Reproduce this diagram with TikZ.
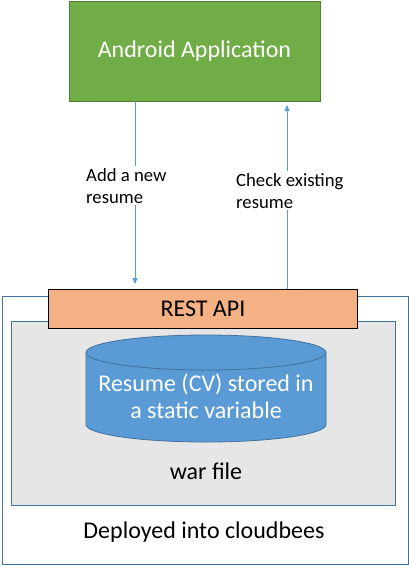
\documentclass[tikz,border=0pt]{standalone}
\usepackage{fontspec}
\setmainfont{Carlito}
\usetikzlibrary{arrows.meta}
\definecolor{appgreen}{HTML}{70AD47}
\definecolor{appgreenb}{HTML}{507E32}
\definecolor{restor}{HTML}{F4B183}
\definecolor{dbblue}{HTML}{5B9BD5}
\definecolor{edgeblue}{HTML}{41719C}
\definecolor{warg}{HTML}{E7E6E6}
\tikzset{
  box/.style={draw, rectangle, inner sep=0pt},
  conn/.style={draw=dbblue, line width=0.8pt, -{Triangle[length=6pt,width=5pt]}},
  lbl/.style={fill=white, align=left, font=\fontsize{18.7}{22}\selectfont, inner sep=2pt, anchor=north west},
  big/.style={font=\fontsize{24}{28}\selectfont}
}
\begin{document}
\begin{tikzpicture}[x=1pt,y=-1pt]
\useasboundingbox (0,0) rectangle (409,566);
% outer deployment box
\node[box, draw=edgeblue, line width=0.9pt, minimum width=406pt, minimum height=268pt, anchor=north west] (cloud) at (1.5,296) {};
% war file box
\node[box, draw=edgeblue, fill=warg, line width=0.9pt, minimum width=384pt, minimum height=184pt, anchor=north west] (war) at (11,320.5) {};
% REST API
\node[box, big, draw=black, fill=restor, line width=0.9pt, minimum width=309pt, minimum height=39pt, anchor=north west] (rest) at (48,289) {REST API};
% Android app
\node[box, big, draw=appgreenb, fill=appgreen, line width=0.9pt, minimum width=251pt, minimum height=100pt, anchor=north west, text=white] (app) at (68.5,0.5) {Android Application};
% cylinder
\draw[draw=edgeblue, fill=dbblue, line width=0.8pt] (86,352.5) -- (86,424.5) arc[start angle=180, end angle=0, x radius=120, y radius=17.5] -- (326,352.5);
\draw[draw=edgeblue, fill=dbblue, line width=0.8pt] (206,352.5) ellipse[x radius=120, y radius=17.5];
\node[big, text=white, align=center, font=\fontsize{24}{27}\selectfont] (db) at (206,396) {Resume (CV) stored in\\a static variable};
\node[big] (warlbl) at (206,471) {war file};
\node[big] (cloudlbl) at (204,532) {Deployed into cloudbees};
% connectors
\coordinate (l1) at (135,100.5);
\coordinate (l2) at (135,284);
\coordinate (r1) at (287,289);
\coordinate (r2) at (287,105);
\draw[conn] (l1) -- (l2);
\draw[conn] (r1) -- (r2);
\node[lbl] (addlbl) at (84,166) {Add a new\\resume};
\node[lbl] (chklbl) at (234,171) {Check existing\\resume};
\end{tikzpicture}
\end{document}
